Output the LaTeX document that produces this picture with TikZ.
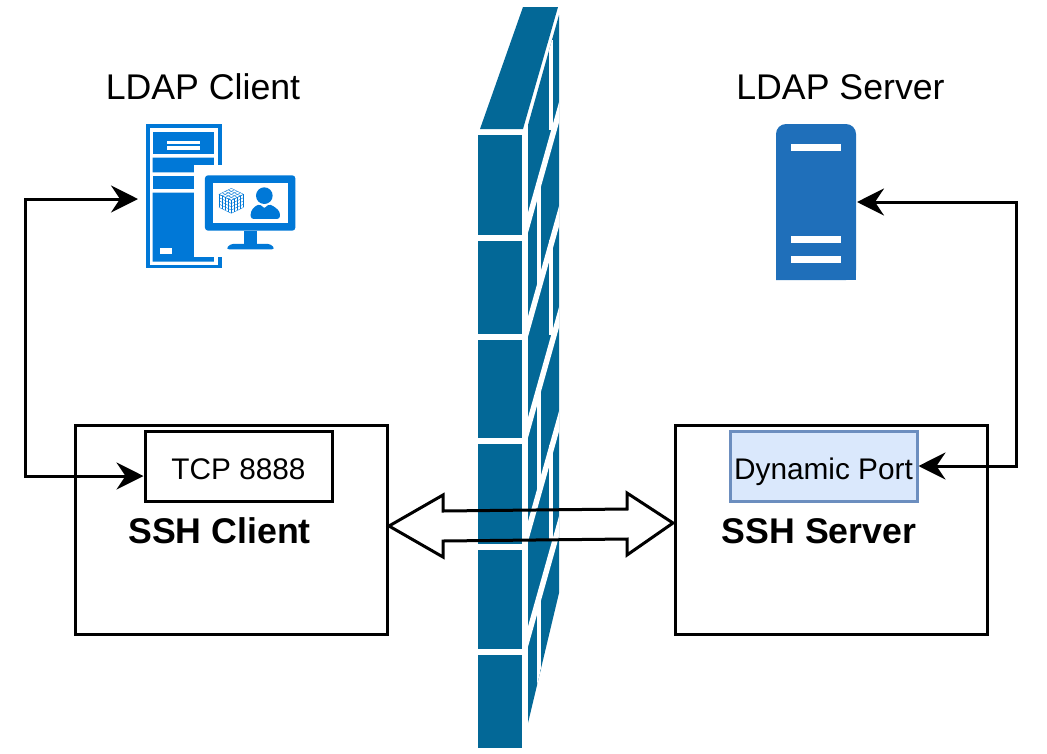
\documentclass[tikz,border=0pt]{standalone}
\usepackage{fontspec}
\setmainfont{Liberation Sans}
\usetikzlibrary{arrows.meta}
\definecolor{wall blue}{HTML}{036897}
\definecolor{pc blue}{HTML}{0078D7}
\definecolor{rack blue}{HTML}{1F6FBA}
\definecolor{port fill}{HTML}{DAE8FC}
\definecolor{port edge}{HTML}{6C8EBF}
\tikzset{
  hostbox/.style={draw, line width=3pt, minimum width=312pt, minimum height=209pt, inner sep=0pt},
  portbox/.style={draw, line width=3pt, minimum width=187pt, minimum height=70pt, inner sep=0pt,
    text height=26pt, text depth=0pt, font=\fontsize{29.8}{32}\selectfont},
  title/.style={anchor=base, inner sep=0pt, font=\fontsize{35.7}{38}\selectfont},
  hostname/.style={title, font=\fontsize{35.7}{38}\selectfont\bfseries},
  icon/.style={inner sep=0pt, outer sep=0pt}
  }
\tikzstyle{link} = [draw, line width=3pt, {Stealth[length=27pt,width=27pt,inset=9pt]}-{Stealth[length=27pt,width=27pt,inset=9pt]}]
\tikzstyle{tunnel} = [draw, line width=3pt]
\tikzstyle{gap} = [white, line width=5.5pt]
\tikzstyle{joint} = [white, line width=4.5pt]
\tikzstyle{mesh} = [pc blue, line width=0.35pt]

\begin{document}
\begin{tikzpicture}[x=1pt,y=-1pt]
   \useasboundingbox (0,0) rectangle (1047,753);

   % firewall
   \fill[wall blue] (523,7) -- (558,7) -- (523,129) -- (480,129) -- cycle;
   \foreach \ytop/\ybot in {135/235,241/334,340/438,444/544,550/649,655/748}
       \fill[wall blue] (478,\ytop) rectangle (522,\ybot);

   \begin{scope}
       \clip (528,125) -- (559,15) -- (559,593) -- (528,723) -- cycle;
       \fill[wall blue] (520,0) rectangle (565,740);
       \foreach \ya in {223,327,428,532,637}
           \draw[gap] (520,\ya+28) -- (565,\ya-132);
       % bricks are staggered, so the joints swap column per row
       \draw[joint] (551,40) -- (551,130);
       \draw[joint] (539,180) -- (539,290);
       \draw[joint] (551,240) -- (551,335);
       \draw[joint] (539,385) -- (539,495);
       \draw[joint] (551,445) -- (551,540);
       \draw[joint] (539,595) -- (539,740);
   \end{scope}

   % ldap client icon
   \begin{scope}[shift={(130,110)},x=0.3333pt,y=-0.3333pt]
       \fill[pc blue] (47,43) rectangle (275,475);
       \fill[white] (60,55) rectangle (263,465);
       \fill[pc blue] (68,66) rectangle (252,132);
       \fill[white] (112,92) rectangle (210,103);
       \fill[white] (112,108) rectangle (210,120);
       \fill[pc blue] (68,143) -- (252,143) -- (252,165) -- (192,165) -- (192,187) -- (68,187) -- cycle;
       \fill[pc blue] (68,198) rectangle (192,236);
       \fill[pc blue] (68,248) -- (192,248) -- (192,440) -- (252,440) -- (252,455) -- (68,455) -- cycle;
       \fill[white] (90,415) rectangle (125,433);
       \fill[white] (192,165) rectangle (280,440);
       \fill[pc blue, rounded corners=3pt] (225,196) rectangle (496,362);
       \fill[white] (248,218) rectangle (473,340);
       \fill[pc blue] (343,362) rectangle (380,402);
       \fill[pc blue, rounded corners=3pt] (288,418) -- (300,402) -- (423,402) -- (435,418) -- cycle;
       \fill[pc blue] (403,257) circle (25);
       \fill[pc blue, rounded corners=3pt] (362,327) -- (362,305) -- (375,288) -- (392,282) -- (403,298) -- (414,282) -- (431,288) -- (450,305) -- (450,327) -- cycle;
       \foreach \t in {0,0.25,0.5,0.75,1} {
           \draw[mesh] (304+\t*37,235+\t*18) -- (267+\t*37,253+\t*18);
           \draw[mesh] (304-\t*37,235+\t*18) -- (341-\t*37,253+\t*18);
           \draw[mesh] (267+\t*37,253+\t*18) -- (267+\t*37,292+\t*18);
           \draw[mesh] (341-\t*37,253+\t*18) -- (341-\t*37,292+\t*18);
           \draw[mesh] (267,253+\t*39) -- (304,271+\t*39);
           \draw[mesh] (341,253+\t*39) -- (304,271+\t*39);
       }
   \end{scope}

   % ldap server icon
   \fill[rack blue, rounded corners=10pt] (776,280) -- (776,124) -- (856,124) -- (856,280) [sharp corners] -- cycle;
   \fill[rack blue] (776,250) rectangle (856,280);
   \foreach \ybar in {144,236,256}
       \fill[white] (791,\ybar) rectangle (841,\ybar+6.5);

   \node[icon, minimum width=150pt, minimum height=144pt] (ldap pc) at (221,196) {};
   \node[icon, minimum width=81pt, minimum height=156pt] (ldap rack) at (816.5,202) {};

   \node[title] (client title) at (203,99) {LDAP Client};
   \node[title] (server title) at (840.5,99) {LDAP Server};

   \node[hostbox] (client box) at (231,529.5) {};
   \node[hostbox] (server box) at (831,529.5) {};
   \node[portbox] (tcp port) at (238.5,466) {TCP 8888};
   \node[portbox, draw=port edge, fill=port fill] (dyn port) at (823.5,466) {Dynamic Port};
   \node[hostname] (client name) at (219.5,543) {SSH Client};
   \node[hostname] (server name) at (819,543) {SSH Server};

   \path[link] ([yshift=-10pt]tcp port.west) -- ++(-118,0) |- ([shift={(-8,3)}]ldap pc.west);
   \path[link] (ldap rack.east) -- ++(159,0) |- (dyn port.east);

   \draw[tunnel] ([shift={(0.5,-3.5)}]client box.east) -- ++(54,-31) -- ++(0,16) -- ++(184,-2) -- ++(0,-16)
       -- ([shift={(-0.5,-6.5)}]server box.west) -- ++(-46,32) -- ++(0,-16) -- ++(-184,2) -- ++(0,16) -- cycle;
\end{tikzpicture}
\end{document}
